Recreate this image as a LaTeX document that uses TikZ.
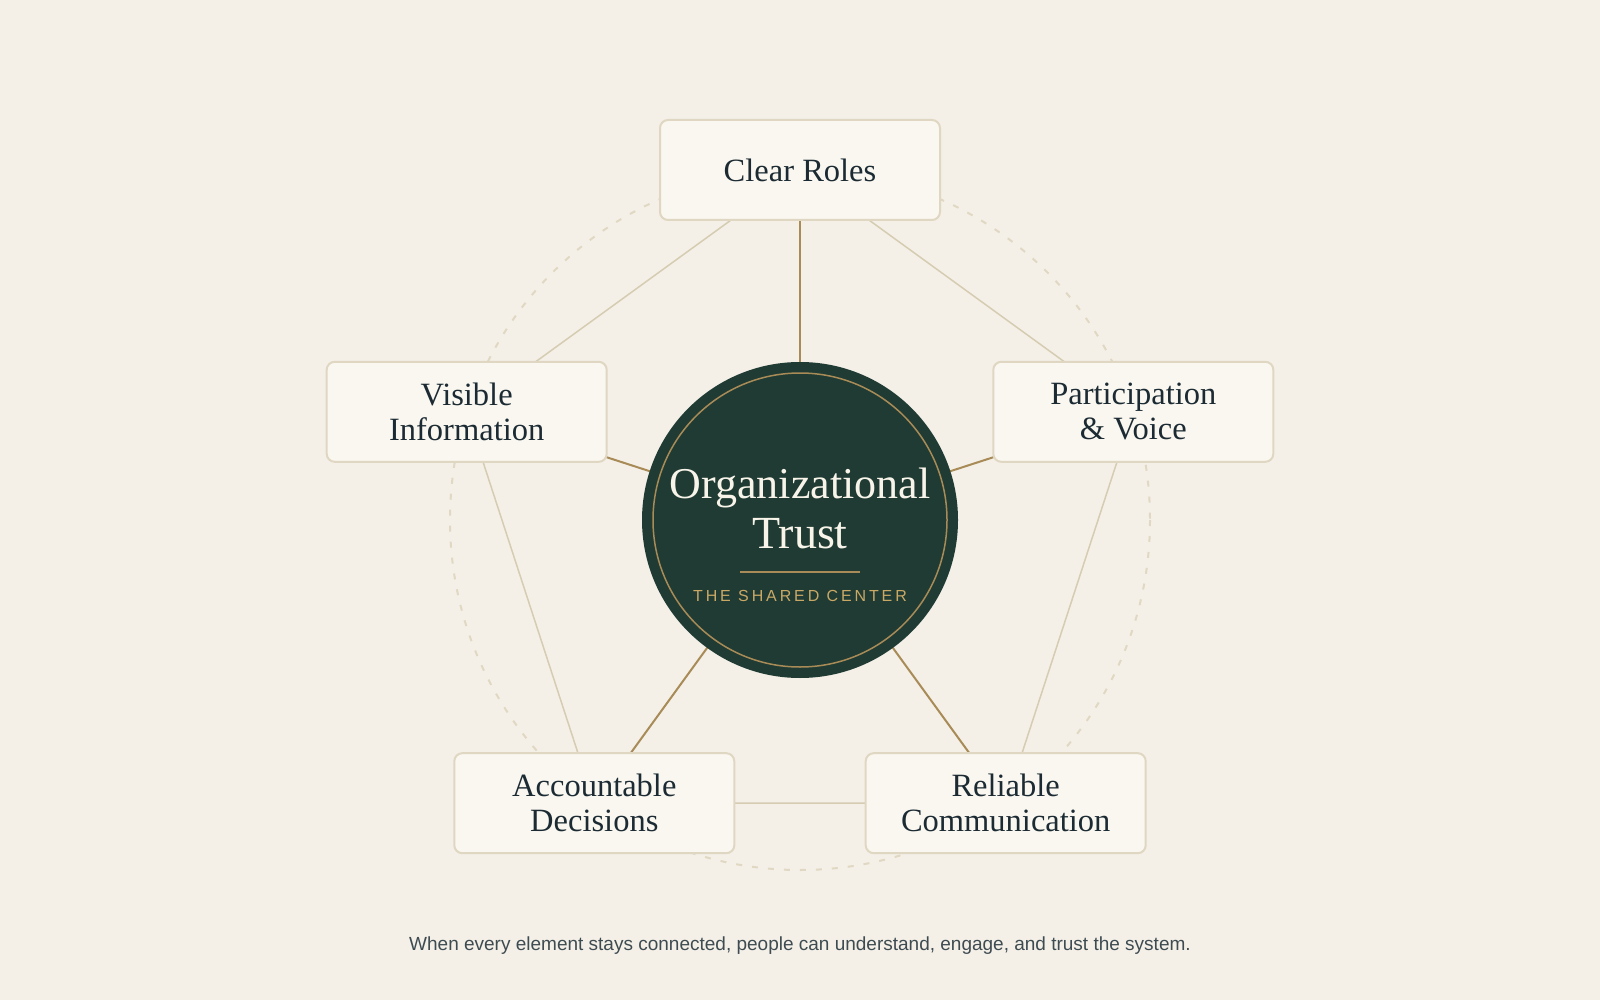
\documentclass[tikz,border=0pt]{standalone}
\usepackage{fontspec}
\setmainfont{Liberation Serif}
\setsansfont{Liberation Sans}
\newfontfamily\spacedsans[LetterSpace=18]{Liberation Sans}
\usetikzlibrary{backgrounds}
\pgfdeclarelayer{base}
\pgfsetlayers{base,background,main}
\definecolor{bgc}{HTML}{F4F0E8}
\definecolor{boxfill}{HTML}{FAF7F0}
\definecolor{boxline}{HTML}{E0D7C2}
\definecolor{dashc}{HTML}{E0D8C2}
\definecolor{edgec}{HTML}{D6CCB2}
\definecolor{goldc}{HTML}{A88B57}
\definecolor{darkc}{HTML}{1F3B33}
\definecolor{textc}{HTML}{1C2B33}
\definecolor{subgold}{HTML}{C9A866}
\definecolor{capc}{HTML}{3E4B51}
\definecolor{titlec}{HTML}{F8F4EA}
\tikzset{
  pillar/.style={draw=boxline, line width=2pt, fill=boxfill, rounded corners=8pt,
    minimum width=280pt, minimum height=100pt, align=center, text=textc,
    font=\fontsize{32.5}{35}\selectfont, inner sep=0pt},
  spoke/.style={draw=goldc, line width=2pt},
  rim/.style={draw=edgec, line width=1.5pt},
  orbit/.style={draw=dashc, line width=2pt, dash pattern=on 6pt off 10pt},
}
\begin{document}
\begin{tikzpicture}[x=1pt,y=-1pt]
\begin{pgfonlayer}{base}
\fill[bgc] (0,0) rectangle (1600,1000);
\end{pgfonlayer}
\useasboundingbox (0,0) rectangle (1600,1000);

\node[circle, fill=darkc, minimum size=316pt, inner sep=0pt] (hub) at (800,520) {};
\draw[goldc, line width=1.5pt] (hub.center) circle[radius=147];

\node[pillar] (roles) at (800,170) {Clear Roles};
\node[pillar] (info) at (466.7,411.8) {Visible\\Information};
\node[pillar] (voice) at (1133.3,411.8) {Participation\\\& Voice};
\node[pillar] (acc) at (594.3,803.2) {Accountable\\Decisions};
\node[pillar] (rel) at (1005.7,803.2) {Reliable\\Communication};

\node[anchor=base, text=titlec, font=\fontsize{44}{50}\selectfont, inner sep=0pt] (t1) at (800,498) {Organizational};
\node[anchor=base, text=titlec, font=\fontsize{46}{50}\selectfont, inner sep=0pt] (t2) at (800,548) {Trust};
\coordinate (ruleL) at (740,572);
\coordinate (ruleR) at (860,572);
\draw[goldc, line width=1.5pt] (ruleL) -- (ruleR);
\node[anchor=base, text=subgold, font=\spacedsans\fontsize{16}{18}\selectfont, inner sep=0pt] (sub) at (800,601) {THE SHARED CENTER};

\node[anchor=base, text=capc, font=\sffamily\fontsize{19}{22}\selectfont, inner sep=0pt] (cap) at (800,950) {When every element stays connected, people can understand, engage, and trust the system.};

\begin{pgfonlayer}{background}
  \draw[orbit] (hub.center) circle[radius=350];
  \draw[rim] (roles.center) -- (voice.center) -- (rel.center) -- (acc.center) -- (info.center) -- (roles.center);
  \foreach \p in {roles,info,voice,acc,rel} \draw[spoke] (hub.center) -- (\p.center);
\end{pgfonlayer}
\end{tikzpicture}
\end{document}
